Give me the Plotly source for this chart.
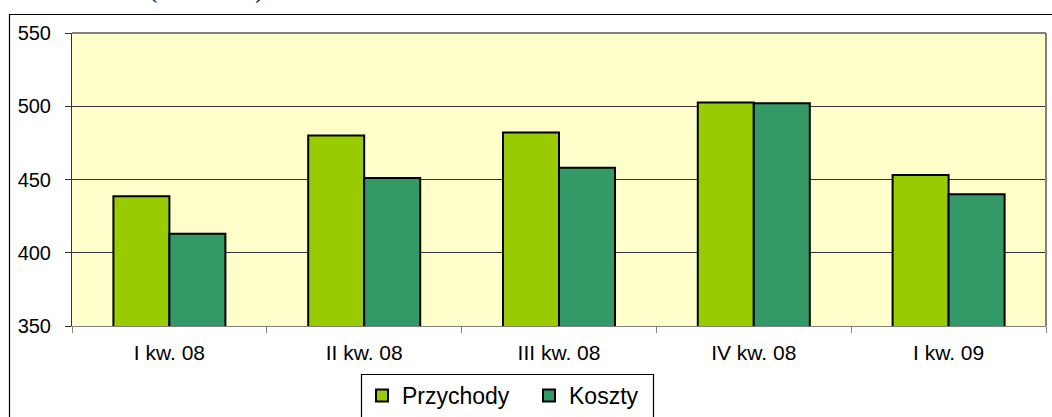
import plotly.graph_objects as go

categories = ["I kw. 08", "II kw. 08", "III kw. 08", "IV kw. 08", "I kw. 09"]
przychody = [438.5, 480, 482, 502.5, 453]
koszty = [413, 451, 458, 502, 440]
y_ticks = [350, 400, 450, 500, 550]

W, H = 1052, 417
L, R, T, B = 72, 1046, 33, 326

fig = go.Figure()
fig.add_trace(go.Bar(name="Przychody", x=categories, y=przychody,
                     marker=dict(color="#99CC00", line=dict(color="black", width=2))))
fig.add_trace(go.Bar(name="Koszty", x=categories, y=koszty,
                     marker=dict(color="#339966", line=dict(color="black", width=2))))

def px_x(x):
    return (x - L) / (R - L)

def px_y(y):
    return (B - y) / (B - T)

fig.update_layout(
    width=W, height=H,
    margin=dict(l=L, r=W - R, t=T, b=H - B, pad=0, autoexpand=False),
    paper_bgcolor="white", plot_bgcolor="#FFFFCC",
    barmode="group", bargap=0.425, bargroupgap=0,
    font=dict(family="Arial, Liberation Sans", size=20, color="black"),
    showlegend=True,
    legend=dict(orientation="h", x=px_x(362), xanchor="left", y=px_y(374), yanchor="top",
                borderwidth=0, bgcolor="rgba(0,0,0,0)",
                font=dict(size=23), itemwidth=30, traceorder="normal",
                entrywidth=122),
    xaxis=dict(showgrid=False, ticks="outside", tickson="boundaries", ticklen=6,
               tickcolor="#808080", showline=True, linecolor="#808080", linewidth=1,
               ticklabelstandoff=8, tickfont=dict(size=21), automargin=False),
    yaxis=dict(range=[350, 550], tickvals=y_ticks, showgrid=True, gridcolor="#333333",
               gridwidth=1, ticks="outside", ticklen=6, tickcolor="#333333",
               showline=True, linecolor="#333333", linewidth=1, zeroline=False,
               ticklabelstandoff=10, tickfont=dict(size=20), automargin=False),
    shapes=[
        dict(type="line", xref="paper", yref="paper", x0=0, x1=1, y0=1, y1=1,
             line=dict(color="#808080", width=2)),
        dict(type="line", xref="paper", yref="paper", x0=1, x1=1, y0=0, y1=1,
             line=dict(color="#808080", width=2)),
        dict(type="rect", xref="paper", yref="paper", x0=px_x(9.5), x1=px_x(1060),
             y0=px_y(430), y1=px_y(14.5), line=dict(color="black", width=1.2),
             fillcolor="rgba(0,0,0,0)", layer="below"),
        dict(type="rect", xref="paper", yref="paper", x0=px_x(361.5), x1=px_x(653.5),
             y0=px_y(430), y1=px_y(374.5), line=dict(color="black", width=1.2),
             fillcolor="white", layer="below"),
    ],
    annotations=[
        dict(text="(w mln zł)", xref="paper", yref="paper", x=px_x(206), y=px_y(5),
             xanchor="center", yanchor="bottom", showarrow=False,
             font=dict(family="Liberation Serif, Times New Roman", size=28, color="black")),
    ],
)

fig.write_html("out.html", config={"displayModeBar": False},
               post_script="document.body.style.margin='0';document.body.style.overflow='hidden';")
